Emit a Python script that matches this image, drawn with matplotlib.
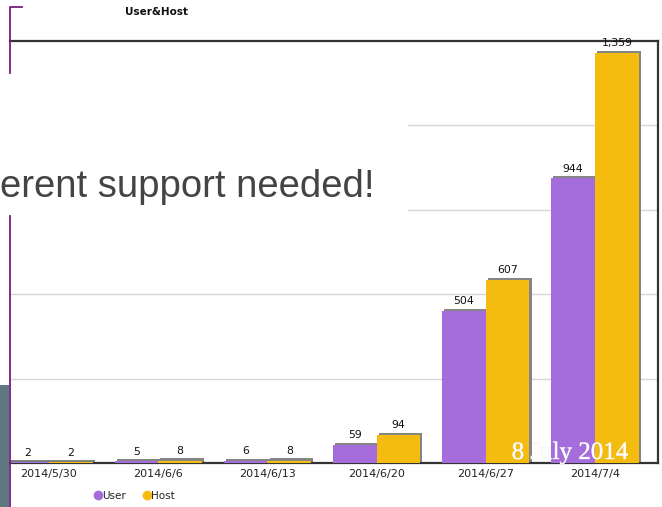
import matplotlib
matplotlib.use("Agg")
import matplotlib.pyplot as plt
import matplotlib.patheffects as pe
from matplotlib.patches import Rectangle
from matplotlib.lines import Line2D

# data
weeks = ["2014/5/30", "2014/6/6", "2014/6/13", "2014/6/20", "2014/6/27", "2014/7/4"]
user = [2, 5, 6, 59, 504, 944]
host = [2, 8, 8, 94, 607, 1359]
series_names = ["User", "Host"]

W, H = 662, 507
C_USER = "#a56ddb"
C_HOST = "#f5bc10"
C_SHADOW = "#858585"


def fx(px):
    return px / W


def fy(py):
    return 1 - py / H


fig = plt.figure(figsize=(W / 100, H / 100), dpi=100)
fig.patch.set_facecolor("white")

ax = fig.add_axes([fx(10), fy(463), fx(658) - fx(10), fy(41) - fy(463)])
ax.set_xlim(-0.357, 5.577)
ax.set_ylim(0, 1400)

bw = 0.4
dx, dy = 0.02, 7
for i, (u, h) in enumerate(zip(user, host)):
    for off, v, c in ((-bw / 2, u, C_USER), (bw / 2, h, C_HOST)):
        # drop shadow on the top/right edges
        ax.bar(i + off + dx, v + dy, width=bw, bottom=0, color=C_SHADOW, zorder=2)
        ax.bar(i + off, v, width=bw, color=c, zorder=3)
        ax.annotate(f"{v:,}", (i + off, v + dy), xytext=(0, 2),
                    textcoords="offset points", ha="center", va="bottom",
                    fontsize=7.8, color="#111111", zorder=4)

ax.set_yticks([280, 560, 840, 1120])
ax.yaxis.grid(True, color="#d6d6d6", linewidth=1)
ax.set_axisbelow(True)
ax.tick_params(axis="y", left=False, labelleft=False)
ax.set_xticks(range(len(weeks)))
ax.set_xticklabels(weeks, fontsize=8, color="#222222")
ax.tick_params(axis="x", length=0, pad=4)
ax.spines["left"].set_visible(False)
for s in ("top", "bottom", "right"):
    ax.spines[s].set_color("#333333")
    ax.spines[s].set_linewidth(1.6)

# chart title
fig.text(fx(156), fy(12), "User&Host", ha="center", va="center",
         fontsize=7.5, fontweight="bold", color="#111111")

# legend
for xc, c, name in ((98, C_USER, series_names[0]), (147, C_HOST, series_names[1])):
    fig.add_artist(Line2D([fx(xc)], [fy(495)], marker="o", markersize=6,
                          color=c, linestyle="none"))
    fig.text(fx(xc + 4), fy(496), name, ha="left", va="center",
             fontsize=7.5, color="#222222")

# slide overlay: white box with headline fragment
fig.add_artist(Rectangle((0, fy(216)), fx(408), fy(73) - fy(216),
                         transform=fig.transFigure, facecolor="white",
                         edgecolor="none", zorder=5))
fig.text(0, fy(197), "erent support needed!", ha="left", va="baseline",
         fontsize=27.5, family="Liberation Sans", color="#444444", zorder=6)

# purple bracket lines
purple = "#7d1a82"
fig.add_artist(Line2D([fx(10), fx(10), fx(22)], [fy(73), fy(7), fy(7)],
                      color=purple, linewidth=1.3, zorder=6))
fig.add_artist(Line2D([fx(10), fx(10)], [fy(216), fy(507)],
                      color=purple, linewidth=1.3, zorder=6))

# grey side block
fig.add_artist(Rectangle((0, 0), fx(9), fy(385), transform=fig.transFigure,
                         facecolor="#5f7780", edgecolor="none", zorder=6))

# date stamp
stamp = fig.text(fx(570), fy(459), "8 July 2014", ha="center", va="baseline",
                 fontsize=18, family="Liberation Serif", color="white",
                 alpha=0.85, zorder=7)
stamp.set_path_effects([pe.withStroke(linewidth=0.4, foreground="#e4e4e4")])

fig.savefig("out.png", dpi=100)
